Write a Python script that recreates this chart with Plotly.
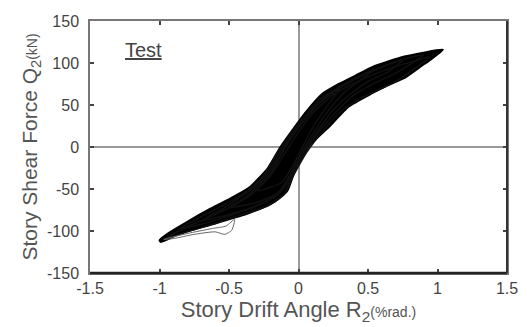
import plotly.graph_objects as go

# ---- axis ticks ----
x_tick_vals = [-1.5, -1.0, -0.5, 0.0, 0.5, 1.0, 1.5]
x_tick_text = ["-1.5", "-1", "-0.5", "0", "0.5", "1", "1.5"]
y_tick_vals = [-150, -100, -50, 0, 50, 100, 150]
y_tick_text = ["-150", "-100", "-50", "0", "50", "100", "150"]

# ---- hysteresis cycles (drift angle %rad, shear force kN) ----
cycle1_x = [-1.00, -0.94, -0.80, -0.65, -0.51, -0.36, -0.22, -0.13, 0.00, 0.05, 0.17, 0.29, 0.41, 0.53, 0.65, 0.77, 0.89, 1.04,
            0.95, 0.89, 0.77, 0.65, 0.53, 0.36, 0.22, 0.07, -0.02, -0.08, -0.17, -0.36, -0.60, -0.85, -0.99, -1.00]
cycle1_y = [-111, -103, -89, -75, -63, -49, -25, 0, 30, 41, 63, 75, 85, 95, 102, 108, 112, 116,
            104, 97, 83, 74, 64, 48, 24, 0, -25, -52, -65, -79, -91, -103, -113, -111]

cycle2_x = [-0.85, -0.70, -0.55, -0.40, -0.27, -0.17, -0.08, 0.02, 0.15, 0.30, 0.45, 0.60, 0.75, 0.90,
            0.80, 0.70, 0.55, 0.40, 0.25, 0.12, 0.02, -0.06, -0.15, -0.30, -0.50, -0.70, -0.85]
cycle2_y = [-97, -83, -70, -56, -38, -12, 10, 32, 56, 72, 85, 95, 104, 110,
            98, 88, 76, 62, 38, 12, -15, -40, -57, -70, -82, -92, -97]

cycle3_x = [-0.70, -0.55, -0.42, -0.30, -0.20, -0.10, 0.00, 0.12, 0.25, 0.40, 0.55, 0.75,
            0.65, 0.50, 0.38, 0.25, 0.14, 0.04, -0.04, -0.12, -0.25, -0.45, -0.70]
cycle3_y = [-88, -74, -60, -45, -24, 2, 24, 48, 65, 80, 92, 104,
            90, 78, 64, 44, 20, -5, -30, -52, -66, -78, -88]

cycle4_x = [-0.50, -0.40, -0.30, -0.20, -0.11, -0.03, 0.08, 0.20, 0.35, 0.55,
            0.45, 0.33, 0.20, 0.10, 0.01, -0.07, -0.15, -0.30, -0.50]
cycle4_y = [-72, -62, -48, -28, -4, 18, 40, 60, 76, 93,
            80, 65, 40, 15, -10, -36, -55, -66, -72]

cycle5_x = [-0.30, -0.20, -0.12, -0.04, 0.05, 0.15, 0.30,
            0.22, 0.12, 0.04, -0.04, -0.12, -0.30]
cycle5_y = [-52, -32, -8, 14, 34, 52, 70,
            52, 28, 4, -22, -42, -52]

cycle6_x = [-0.95, -0.80, -0.62, -0.45, -0.32, -0.20, -0.10, 0.00, 0.10, 0.25, 0.40, 0.55, 0.70, 0.85, 0.95,
            0.85, 0.72, 0.60, 0.45, 0.30, 0.18, 0.06, -0.03, -0.10, -0.22, -0.40, -0.60, -0.80, -0.95]
cycle6_y = [-108, -95, -82, -68, -54, -34, -8, 18, 40, 62, 76, 87, 96, 103, 108,
            95, 80, 70, 58, 42, 20, -6, -32, -55, -70, -80, -91, -101, -108]

thin_loop_x = [-0.97, -0.80, -0.62, -0.52, -0.46, -0.48, -0.53, -0.60, -0.75, -0.90, -0.97]
thin_loop_y = [-110, -103, -97, -94, -86, -99, -104, -101, -104, -109, -110]

fig = go.Figure()

fig.add_trace(go.Scatter(x=cycle1_x, y=cycle1_y, mode="lines", fill="toself",
                         fillcolor="black",
                         line=dict(color="black", width=2, shape="spline", smoothing=0.6),
                         hoverinfo="skip", showlegend=False))
for cx, cy in [(cycle2_x, cycle2_y), (cycle3_x, cycle3_y), (cycle4_x, cycle4_y),
               (cycle5_x, cycle5_y), (cycle6_x, cycle6_y)]:
    fig.add_trace(go.Scatter(x=cx, y=cy, mode="lines",
                             line=dict(color="#111", width=1.5, shape="spline", smoothing=0.6),
                             hoverinfo="skip", showlegend=False))
fig.add_trace(go.Scatter(x=thin_loop_x, y=thin_loop_y, mode="lines",
                         line=dict(color="#666", width=1, shape="spline", smoothing=0.6),
                         hoverinfo="skip", showlegend=False))

font_main = "Liberation Sans, Arial, sans-serif"
axis_common = dict(
    showgrid=False, zeroline=True, zerolinecolor="#9a9a9a", zerolinewidth=1.5,
    showline=True, linecolor="#777", linewidth=1.5, mirror="ticks",
    ticks="inside", ticklen=4, tickwidth=1.5, tickcolor="#444",
    tickfont=dict(family=font_main, size=16, color="#444"),
    automargin=False,
)

fig.update_layout(
    width=527, height=327,
    margin=dict(l=90, r=20, t=21, b=54),
    paper_bgcolor="white", plot_bgcolor="white",
    xaxis=dict(range=[-1.5, 1.5], tickvals=x_tick_vals, ticktext=x_tick_text,
               title=dict(text="Story Drift Angle R<sub>2</sub><span style='font-size:14px'>(%rad.)</span>",
                          font=dict(family=font_main, size=22, color="#555"), standoff=0),
               **axis_common),
    yaxis=dict(range=[-150, 150], tickvals=y_tick_vals, ticktext=y_tick_text,
               title=dict(text="Story Shear Force Q<sub>2</sub><span style='font-size:14px'>(kN)</span>",
                          font=dict(family=font_main, size=21, color="#555"), standoff=4),
               ticklabelstandoff=6,
               **axis_common),
    annotations=[dict(text="<u>Test</u>", xref="paper", yref="paper", x=0.08, y=0.885,
                      xanchor="left", yanchor="middle", showarrow=False,
                      font=dict(family=font_main, size=20, color="#444"))],
    shapes=[
        dict(type="line", xref="paper", yref="paper", x0=0, x1=1, y0=0, y1=0,
             line=dict(color="#222", width=2.5)),
        dict(type="line", xref="paper", yref="paper", x0=1, x1=1, y0=0, y1=1,
             line=dict(color="#333", width=2)),
    ],
)

fig.write_html("out.html", config={"displayModeBar": False},
               post_script="document.body.style.margin='0';document.body.style.overflow='hidden';")
